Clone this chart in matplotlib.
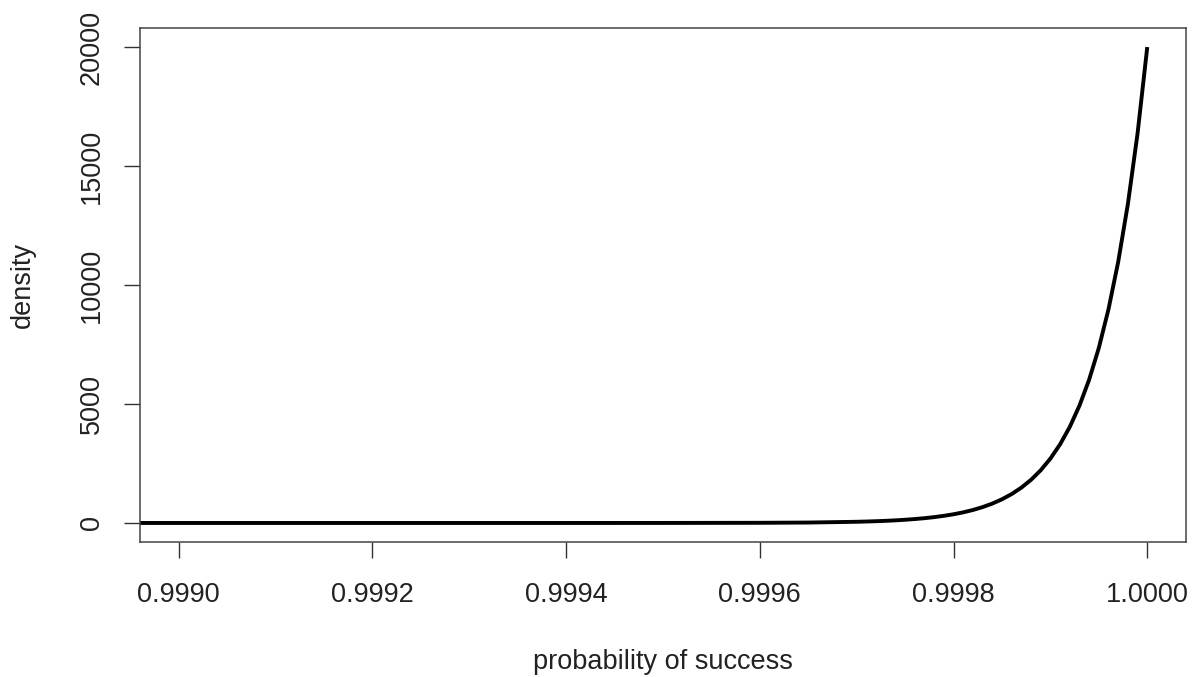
import matplotlib
matplotlib.use("Agg")
import matplotlib.pyplot as plt

plt.rcParams['font.family'] = ['Liberation Sans', 'DejaVu Sans']

# values
prob = [0.99896, 0.9992, 0.9994, 0.9995, 0.9996, 0.99965,
        0.99970, 0.99971, 0.99972, 0.99973, 0.99974, 0.99975, 0.99976,
        0.99977, 0.99978, 0.99979, 0.99980, 0.99981, 0.99982, 0.99983,
        0.99984, 0.99985, 0.99986, 0.99987, 0.99988, 0.99989, 0.99990,
        0.99991, 0.99992, 0.99993, 0.99994, 0.99995, 0.99996, 0.99997,
        0.99998, 0.99999, 1.00000]
density = [0, 0, 0, 1, 7, 18,
           50, 61, 74, 90, 110, 135, 165,
           201, 246, 300, 366, 447, 546, 667,
           815, 996, 1216, 1485, 1814, 2216, 2707,
           3306, 4038, 4932, 6024, 7358, 8987, 10976,
           13406, 16375, 20000]

xticks = [0.9990, 0.9992, 0.9994, 0.9996, 0.9998, 1.0000]
yticks = [0, 5000, 10000, 15000, 20000]

fig = plt.figure(figsize=(11.94, 6.77), dpi=100)
ax = fig.add_axes([0.1173, 0.1994, 0.8760, 0.7592])

ax.plot(prob, density, color='black', lw=2.8, solid_capstyle='butt')

ax.set_xlim(0.99896, 1.00004)
ax.set_ylim(-800, 20800)
ax.set_xticks(xticks)
ax.set_xticklabels(["%.4f" % t for t in xticks])
ax.set_yticks(yticks)
ax.set_yticklabels([str(t) for t in yticks], rotation=90, va='center')

ax.tick_params(direction='out', length=11.5, width=1, colors='#333333',
               labelsize=19.5, labelcolor='#222222')
ax.tick_params(axis='x', pad=17)
ax.tick_params(axis='y', pad=14)
for s in ax.spines.values():
    s.set_color('#444444')
    s.set_linewidth(1.1)

ax.set_xlabel('probability of success', fontsize=19.5, color='#222222', labelpad=30)
ax.set_ylabel('density', fontsize=19.5, color='#222222', labelpad=31)

fig.savefig('out.png', dpi=100)
